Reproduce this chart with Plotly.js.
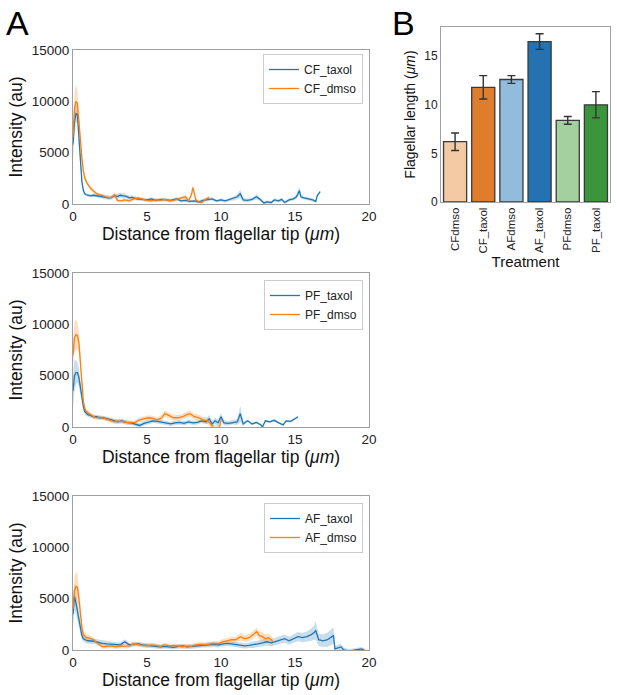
<!DOCTYPE html>
<html>
<head>
<meta charset="utf-8">
<script src="https://cdn.plot.ly/plotly-3.0.1.min.js"></script>
<style>html,body{margin:0;padding:0;background:#fff;}#plot{width:617px;height:695px;}</style>
</head>
<body>
<div id="plot"></div>
<script>
// ---------- Panel A data (distance µm, intensity au, band half-width) ----------
const cfTaxolX = [0,0.1,0.2,0.3,0.4,0.5,0.6,0.7,0.8,0.9,1.0,1.2,1.4,1.6,1.8,2.0,2.2,2.4,2.6,2.8,3.0,3.2,3.4,3.6,3.8,4.0,4.3,4.6,5.0,5.3,5.6,6.0,6.3,6.6,7.0,7.3,7.6,7.9,8.2,8.5,8.8,9.1,9.4,9.7,10.0,10.3,10.6,10.9,11.1,11.3,11.5,11.8,12.1,12.4,12.6,12.9,13.1,13.4,13.6,13.9,14.1,14.3,14.6,14.9,15.1,15.3,15.4,15.6,15.9,16.2,16.4,16.5,16.7];
const cfTaxolY = [5800,8000,8800,8700,6500,4000,2200,1300,1000,900,850,800,850,800,750,700,650,600,650,800,750,850,800,750,600,650,500,450,400,500,350,450,400,350,500,300,350,250,300,200,350,400,500,300,400,300,450,550,700,1000,400,350,450,700,500,100,200,150,400,300,450,150,400,500,700,1300,700,600,500,400,250,800,1200];
const cfTaxolE = [1500,1200,900,800,700,500,300,200,150,150,150,150,150,150,150,150,150,200,200,250,250,250,250,200,200,200,150,150,150,150,150,150,150,150,150,150,150,150,150,150,150,150,150,150,150,150,150,200,250,400,200,150,150,250,150,150,150,150,150,150,150,150,150,150,200,400,200,150,150,150,100,100,100];

const cfDmsoX = [0,0.1,0.2,0.3,0.4,0.5,0.6,0.7,0.8,0.9,1.0,1.2,1.4,1.6,1.8,2.0,2.2,2.4,2.6,2.8,3.0,3.2,3.5,3.8,4.1,4.4,4.7,5.0,5.3,5.6,5.9,6.2,6.5,6.8,7.1,7.4,7.6,7.8,8.0,8.1,8.3,8.5,8.7,8.9,9.1,9.2];
const cfDmsoY = [6500,9300,10000,9800,8000,6000,4500,3200,2500,2200,1900,1500,1200,1000,900,850,700,650,600,900,350,300,400,300,500,600,450,350,300,400,350,450,300,350,500,600,700,300,900,1600,400,200,150,400,600,650];
const cfDmsoE = [1000,1500,1600,1400,1000,700,500,400,300,250,200,200,150,150,150,150,150,150,150,200,150,150,150,150,150,150,150,150,150,150,150,150,150,150,150,200,200,150,250,300,150,150,150,150,150,150];

const pfTaxolX = [0,0.1,0.2,0.3,0.4,0.5,0.6,0.7,0.8,0.9,1.0,1.2,1.4,1.6,1.8,2.0,2.2,2.4,2.6,2.8,3.0,3.3,3.6,3.9,4.2,4.5,4.8,5.1,5.4,5.7,6.0,6.3,6.6,6.9,7.2,7.5,7.8,8.1,8.4,8.7,9.0,9.2,9.4,9.6,9.8,10.0,10.2,10.5,10.8,11.1,11.3,11.5,11.8,12.1,12.4,12.7,12.8,13.0,13.3,13.6,13.9,14.2,14.4,14.7,15.0,15.2];
const pfTaxolY = [3500,5000,5300,5300,4800,3800,2800,2000,1500,1300,1200,1100,1000,1000,900,900,850,750,700,600,500,600,450,400,300,150,350,500,600,550,450,350,300,400,450,350,500,400,450,600,500,800,300,600,400,1000,400,350,450,500,1300,300,600,300,450,200,0,600,500,650,400,200,600,550,800,1000];
const pfTaxolE = [1500,1500,1200,1000,900,700,500,400,300,250,200,200,200,200,200,200,200,200,200,200,200,200,200,200,200,200,200,200,200,200,200,200,200,200,200,200,200,200,200,200,250,400,300,300,300,400,250,200,200,300,800,200,100,100,100,100,100,100,100,100,100,100,100,100,100,100];

const pfDmsoX = [0,0.1,0.2,0.3,0.4,0.5,0.6,0.7,0.8,0.9,1.0,1.2,1.4,1.6,1.8,2.0,2.2,2.4,2.6,2.8,3.0,3.3,3.6,3.9,4.2,4.5,4.8,5.1,5.4,5.7,6.0,6.2,6.5,6.8,7.1,7.4,7.7,7.9,8.2,8.5,8.8,9.1,9.3,9.5,9.7,9.9,10.0];
const pfDmsoY = [7000,8700,9000,8900,8200,6500,4500,2500,1800,1500,1400,1200,1000,900,950,900,800,700,600,500,600,500,450,400,450,700,800,900,850,700,900,1300,1100,900,900,1000,1200,1300,1000,900,700,600,300,-100,-150,0,700];
const pfDmsoE = [1200,1500,1500,1300,1000,800,500,350,250,200,200,200,200,200,200,200,200,200,200,200,200,200,200,200,200,250,250,250,250,250,300,300,300,300,300,300,300,300,300,300,300,300,300,300,300,300,300];

const afTaxolX = [0,0.1,0.2,0.3,0.4,0.5,0.6,0.7,0.8,0.9,1.0,1.2,1.4,1.6,1.8,2.0,2.3,2.6,2.9,3.2,3.5,3.8,4.1,4.4,4.7,5.0,5.3,5.6,5.9,6.2,6.5,6.8,7.1,7.4,7.7,8.0,8.3,8.6,8.9,9.2,9.5,9.8,10.1,10.4,10.7,11.0,11.3,11.6,11.9,12.2,12.5,12.8,13.1,13.4,13.7,14.0,14.3,14.6,14.9,15.2,15.5,15.8,16.1,16.3,16.4,16.6,16.9,17.2,17.5,17.6,17.7,17.9,18.1,18.3,18.6,18.9,19.2,19.5,19.7,19.8];
const afTaxolY = [3500,5200,4600,3800,2800,2000,1400,1100,1000,950,900,900,850,800,700,650,600,550,500,500,800,500,550,600,500,450,400,350,300,350,300,250,350,400,300,350,400,450,500,500,550,500,600,650,600,550,500,400,450,500,600,700,800,700,850,1000,1100,900,1100,1300,1200,1300,1500,1700,1900,1000,900,1000,1300,1400,100,200,300,0,-100,-50,0,100,-50,-200];
const afTaxolE = [1200,1300,1100,900,700,500,400,300,300,300,300,300,250,250,250,250,250,250,250,250,250,200,200,200,200,200,200,200,200,200,200,200,200,200,200,200,200,250,250,250,250,250,250,250,250,250,250,250,250,300,300,300,350,350,350,400,400,400,400,450,450,500,600,700,900,600,600,700,800,800,300,300,300,250,200,200,200,200,200,200];

const afDmsoX = [0,0.1,0.2,0.3,0.4,0.5,0.6,0.7,0.8,0.9,1.0,1.2,1.4,1.6,1.8,2.0,2.3,2.6,2.9,3.2,3.5,3.8,4.1,4.4,4.7,5.0,5.3,5.6,5.9,6.2,6.5,6.8,7.1,7.4,7.7,8.0,8.3,8.6,8.9,9.2,9.5,9.8,10.1,10.4,10.7,11.0,11.3,11.6,11.9,12.2,12.4,12.6,12.8,13.0,13.2,13.4,13.5];
const afDmsoY = [4000,5800,6200,6100,5000,3500,2200,1500,1300,1200,1200,1100,1000,700,500,300,350,400,300,400,350,400,600,500,450,400,500,450,350,500,400,450,350,300,400,350,500,550,500,600,650,600,800,900,1000,1000,1300,1100,1200,1500,1800,1400,1300,1100,1200,1000,800];
const afDmsoE = [1000,1300,1500,1300,1000,700,500,400,400,350,300,250,200,200,200,200,200,200,200,200,200,200,200,200,200,200,200,200,200,200,200,200,200,200,200,200,200,200,200,200,200,250,250,250,300,300,350,350,350,400,400,400,400,400,400,400,400];

const intensityTicks = [0, 5000, 10000, 15000];
const intensityTickText = ['0', '5000', '10000', '15000'];
const distanceTicks = [0, 5, 10, 15, 20];

// ---------- Panel B data ----------
const treatments = ['CFdmso','CF_taxol','AFdmso','AF_taxol','PFdmso','PF_taxol'];
const lengths    = [6.2, 11.8, 12.6, 16.5, 8.4, 10.0];
const lengthErr  = [0.9, 1.2, 0.4, 0.8, 0.4, 1.35];
const barColors  = ['#f3caa3','#e07d2d','#93bcdc','#2472b1','#a3d09e','#3b963b'];
const lengthTicks = [0, 5, 10, 15];

// ---------- styles ----------
const BLUE = '#1f77b4', ORANGE = '#ff7f0e';
const BLUE_BAND = 'rgba(31,119,180,0.25)', ORANGE_BAND = 'rgba(255,127,14,0.25)';
const FONT = 'Liberation Sans, Arial, sans-serif';

function sub(a, e, s) { return a.map((v, i) => v + s * e[i]); }

const traces = [];
function addPanel(xa, ya, leg, s1, s2) {
  [s1, s2].forEach(s => {
    traces.push({x: s.x, y: sub(s.y, s.e, -1), xaxis: xa, yaxis: ya, mode: 'lines',
      line: {width: 0, color: s.band}, showlegend: false, hoverinfo: 'skip'});
    traces.push({x: s.x, y: sub(s.y, s.e, 1), xaxis: xa, yaxis: ya, mode: 'lines',
      line: {width: 0, color: s.band}, fill: 'tonexty', fillcolor: s.band, showlegend: false, hoverinfo: 'skip'});
  });
  [s1, s2].forEach(s => {
    traces.push({x: s.x, y: s.y, xaxis: xa, yaxis: ya, mode: 'lines', name: s.name,
      line: {width: 1.3, color: s.color}, legend: leg});
  });
}
addPanel('x', 'y', 'legend',
  {x: cfTaxolX, y: cfTaxolY, e: cfTaxolE, name: 'CF_taxol', color: BLUE, band: BLUE_BAND},
  {x: cfDmsoX, y: cfDmsoY, e: cfDmsoE, name: 'CF_dmso', color: ORANGE, band: ORANGE_BAND});
addPanel('x2', 'y2', 'legend2',
  {x: pfTaxolX, y: pfTaxolY, e: pfTaxolE, name: 'PF_taxol', color: BLUE, band: BLUE_BAND},
  {x: pfDmsoX, y: pfDmsoY, e: pfDmsoE, name: 'PF_dmso', color: ORANGE, band: ORANGE_BAND});
addPanel('x3', 'y3', 'legend3',
  {x: afTaxolX, y: afTaxolY, e: afTaxolE, name: 'AF_taxol', color: BLUE, band: BLUE_BAND},
  {x: afDmsoX, y: afDmsoY, e: afDmsoE, name: 'AF_dmso', color: ORANGE, band: ORANGE_BAND});

traces.push({
  type: 'bar', x: treatments, y: lengths, xaxis: 'x4', yaxis: 'y4', width: 0.82,
  marker: {color: barColors, line: {color: '#3a3a3a', width: 1.3}},
  error_y: {type: 'data', array: lengthErr, visible: true, color: '#333', thickness: 1.4, width: 4},
  showlegend: false, hoverinfo: 'skip'
});

const W = 617, H = 695;
const px = (a, b) => [a / W, b / W];
const py = (top, bot) => [1 - bot / H, 1 - top / H];

function lineX(dom, anchor) {
  return {domain: dom, anchor: anchor, range: [0, 20], tickvals: distanceTicks,
    showgrid: false, zeroline: false, showline: true, mirror: true, linecolor: '#a0a0a0', linewidth: 1,
    ticks: '', tickfont: {size: 13.5, color: '#222', family: FONT},
    title: {text: 'Distance from flagellar tip (<i>μm</i>)', font: {size: 17.5, color: '#111', family: FONT}, standoff: 2}};
}
function lineY(dom, anchor) {
  return {domain: dom, anchor: anchor, range: [0, 15000], tickvals: intensityTicks, ticktext: intensityTickText,
    showgrid: false, zeroline: false, showline: true, mirror: true, linecolor: '#a0a0a0', linewidth: 1,
    ticks: '', tickfont: {size: 13.5, color: '#222', family: FONT},
    title: {text: 'Intensity (au)', font: {size: 17.5, color: '#111', family: FONT}, standoff: 4}};
}
function legendAt(ytop) {
  return {x: 363 / W, xanchor: 'right', y: ytop, yanchor: 'top', bgcolor: 'rgba(255,255,255,0.8)',
    bordercolor: '#cccccc', borderwidth: 1, font: {size: 12, color: '#222', family: FONT},
    itemwidth: 30, tracegroupgap: 0, traceorder: 'normal'};
}

const layout = {
  width: W, height: H, margin: {l: 0, r: 0, t: 0, b: 0},
  paper_bgcolor: '#fff', plot_bgcolor: '#fff', font: {family: FONT},
  xaxis: lineX(px(73, 369), 'y'), yaxis: lineY(py(50, 204), 'x'),
  xaxis2: lineX(px(73, 369), 'y2'), yaxis2: lineY(py(273, 427), 'x2'),
  xaxis3: lineX(px(73, 369), 'y3'), yaxis3: lineY(py(496, 650), 'x3'),
  xaxis4: {domain: px(441, 610), anchor: 'y4', range: [-0.5, 5.5], showgrid: false, zeroline: false,
    showline: true, mirror: true, linecolor: '#a0a0a0', linewidth: 1, ticks: '', tickangle: -90,
    tickfont: {size: 11.5, color: '#222', family: FONT},
    title: {text: 'Treatment', font: {size: 15, color: '#111', family: FONT}, standoff: 2}},
  yaxis4: {domain: py(27, 202), anchor: 'x4', range: [0, 18], tickvals: lengthTicks, showgrid: false,
    zeroline: false, showline: true, mirror: true, linecolor: '#a0a0a0', linewidth: 1, ticks: '',
    tickfont: {size: 12, color: '#222', family: FONT},
    title: {text: 'Flagellar length (<i>μm</i>)', font: {size: 14, color: '#111', family: FONT}, standoff: 5}},
  legend: legendAt(1 - 54 / H),
  legend2: legendAt(1 - 280 / H),
  legend3: legendAt(1 - 503 / H),
  showlegend: true,
  annotations: [
    {text: 'A', x: 4 / W, y: 1 - 2 / H, xref: 'paper', yref: 'paper', xanchor: 'left', yanchor: 'top',
      showarrow: false, font: {size: 34, color: '#000', family: FONT}},
    {text: 'B', x: 390 / W, y: 1 - 2 / H, xref: 'paper', yref: 'paper', xanchor: 'left', yanchor: 'top',
      showarrow: false, font: {size: 34, color: '#000', family: FONT}}
  ]
};

Plotly.newPlot('plot', traces, layout, {displayModeBar: false, staticPlot: true});
</script>
</body>
</html>
